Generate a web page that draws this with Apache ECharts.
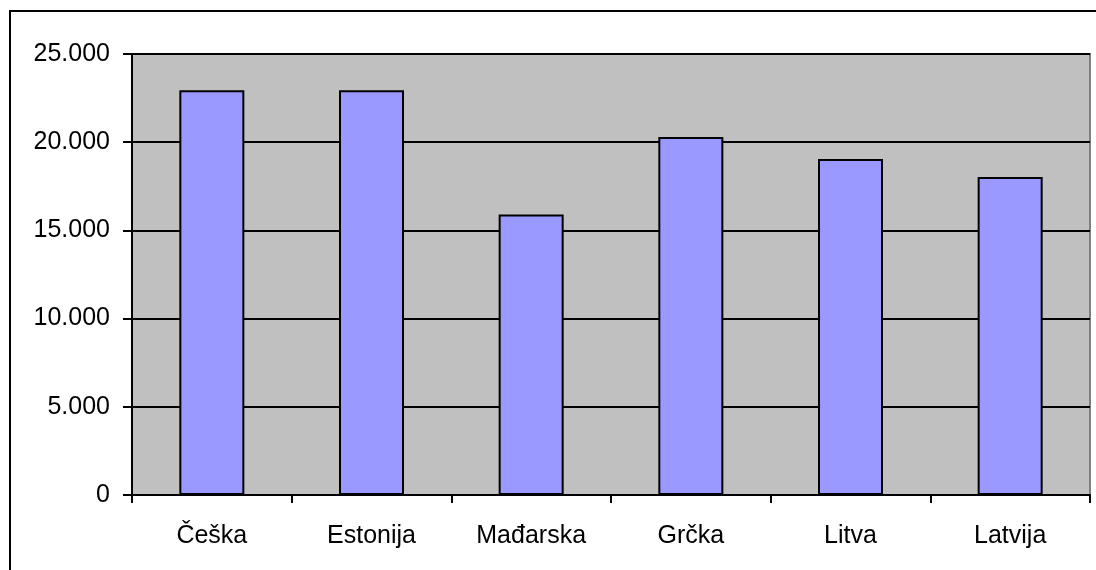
<!DOCTYPE html>
<html>
<head>
<meta charset="utf-8">
<script src="https://cdn.jsdelivr.net/npm/echarts@6/dist/echarts.min.js"></script>
<style>
html,body{margin:0;padding:0;background:#fff;}
#frame{position:absolute;left:9px;top:10px;width:1200px;height:700px;border-left:2px solid #000;border-top:2px solid #000;}
#c{position:absolute;left:0;top:0;width:1096px;height:570px;}
</style>
</head>
<body>
<div id="frame"></div>
<div id="c"></div>
<script>
const categories = ['Češka', 'Estonija', 'Mađarska', 'Grčka', 'Litva', 'Latvija'];
const values = [22950, 22950, 15900, 20300, 19050, 18030];
const yTicks = [0, 5000, 10000, 15000, 20000, 25000];

function fmt(v) {
  return String(v).replace(/\B(?=(\d{3})+(?!\d))/g, '.');
}

const chart = echarts.init(document.getElementById('c'), null, {renderer: 'canvas'});
chart.setOption({
  animation: false,
  backgroundColor: 'transparent',
  grid: {
    left: 132, right: 6, top: 54, bottom: 75,
    show: true, backgroundColor: '#C0C0C0', borderColor: '#808080', borderWidth: 2
  },
  xAxis: {
    type: 'category',
    data: categories,
    axisLine: {lineStyle: {color: '#000', width: 2}},
    axisTick: {show: true, length: 8, lineStyle: {color: '#000', width: 2}},
    axisLabel: {color: '#000', fontFamily: 'Liberation Sans, Arial', fontSize: 25, margin: 29}
  },
  yAxis: {
    type: 'value',
    min: yTicks[0], max: yTicks[yTicks.length - 1], interval: 5000,
    axisLine: {show: true, lineStyle: {color: '#000', width: 2}},
    axisTick: {show: true, length: 9, lineStyle: {color: '#000', width: 2}},
    splitLine: {show: true, lineStyle: {color: '#000', width: 2}},
    axisLabel: {color: '#000', fontFamily: 'Liberation Sans, Arial', fontSize: 25, margin: 22,
      formatter: fmt}
  },
  series: [{
    type: 'bar',
    data: values,
    barWidth: 65,
    itemStyle: {color: '#9999FF', borderColor: '#000', borderWidth: 2}
  }]
});
</script>
</body>
</html>
